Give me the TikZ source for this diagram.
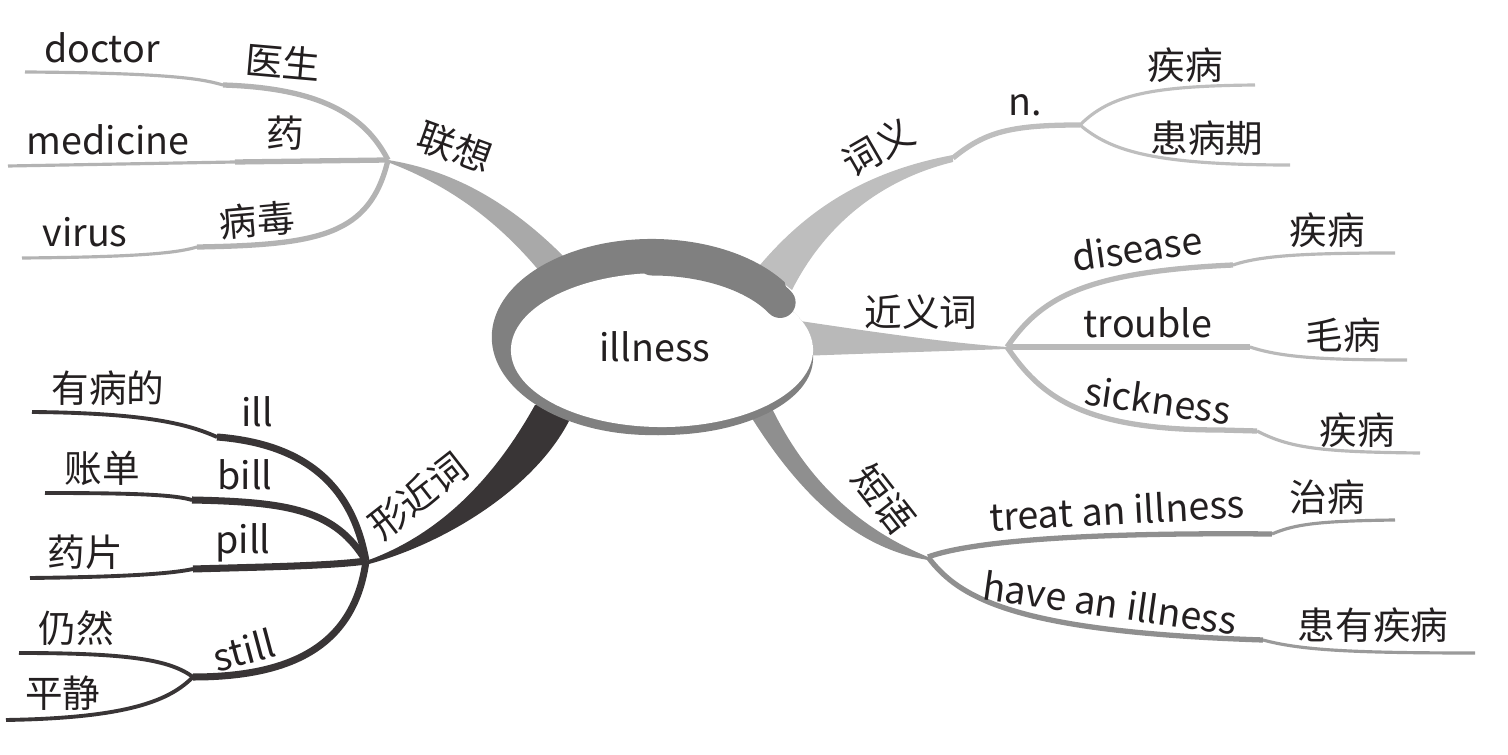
\documentclass[tikz,border=0pt]{standalone}
\usepackage{fontspec}
\setmainfont{Noto Sans CJK SC}
\definecolor{ringgray}{HTML}{808080}
\definecolor{assocband}{HTML}{A9A9A9}
\definecolor{assocline}{HTML}{B3B3B3}
\definecolor{meaningband}{HTML}{BEBEBE}
\definecolor{synband}{HTML}{B9B9B9}
\definecolor{phraseband}{HTML}{8F8F8F}
\definecolor{phraseline}{HTML}{9A9A9A}
\definecolor{lookband}{HTML}{393536}
\definecolor{ink}{HTML}{231F20}

\begin{document}
\begin{tikzpicture}
[x=0.01cm,y=-0.01cm,
 word/.style={text=ink,inner sep=1pt,font=\fontsize{10.7pt}{12pt}\selectfont},
 mainline/.style={line width=1.5pt},
 subline/.style={line width=0.9pt}]

\useasboundingbox (0,0) rectangle (1508,755);

%% branch points
\coordinate (L0) at (388,160);
\coordinate (N0) at (953,158);
\coordinate (N1) at (1080,125);
\coordinate (S0) at (1007,347);
\coordinate (P0) at (928,557);
\coordinate (X0) at (366,561);
\coordinate (X1) at (193,677);

%% bands, under the centre
\fill[assocband] (L0) .. controls (450,170) and (510,200) .. (572,265) -- (545,278) .. controls (500,222) and (450,186) .. (390,163) -- cycle;
\fill[meaningband] (760,265) .. controls (805,212) and (862,172) .. (953,155) -- (953,162) .. controls (880,180) and (825,225) .. (792,290) -- cycle;
\fill[synband] (800,321) .. controls (880,333) and (950,343) .. (S0) -- (1007,349) .. controls (950,351) and (880,353) .. (800,356) -- cycle;
\fill[phraseband] (768,400) .. controls (800,470) and (850,525) .. (P0) -- (928,560) .. controls (860,549) and (800,500) .. (742,402) -- cycle;
\fill[lookband] (535,405) .. controls (485,495) and (425,540) .. (X0) -- (369,564) .. controls (450,542) and (545,482) .. (575,408) -- cycle;

%% centre
\fill[ringgray] (662,358) ellipse [x radius=1.51cm, y radius=0.77cm];
\fill[ringgray] (784.6,282.2) arc[start angle=34, end angle=355, x radius=1.6cm, y radius=0.98cm] -- (812.4,356.7) arc[start angle=-5, end angle=30, x radius=1.51cm, y radius=0.77cm] -- cycle;
\fill[white] (662,350) ellipse [x radius=1.51cm, y radius=0.77cm];
\draw[ringgray, line width=0.31cm, line cap=round] (652,260) arc[start angle=90, end angle=28, x radius=1.45cm, y radius=0.8cm];
\node[word] (c) at (655,347) {illness};

%% 联想
\coordinate (Ld) at (223,85);  \coordinate (Ld2) at (25,72);
\coordinate (Lm) at (235,162); \coordinate (Lm2) at (8,166);
\coordinate (Lv) at (197,247); \coordinate (Lv2) at (22,258);
\draw[mainline,assocline] (L0) .. controls (365,115) and (320,88) .. (Ld);
\draw[subline,assocline] (Ld) .. controls (205,80) and (180,73) .. (Ld2);
\draw[mainline,assocline] (L0) -- (Lm);
\draw[subline,assocline] (Lm) -- (Lm2);
\draw[mainline,assocline] (L0) .. controls (370,235) and (320,245) .. (Lv);
\draw[subline,assocline] (Lv) .. controls (180,252) and (150,257) .. (Lv2);

\node[word,rotate=-20] (lx) at (455,147) {联想};
\node[word,rotate=-5] (ys) at (283,62) {医生};
\node[word] (doc) at (102,48) {doctor};
\node[word] (yao) at (285,133) {药};
\node[word] (med) at (108,140) {medicine};
\node[word,rotate=5] (bd) at (257,220) {病毒};
\node[word] (vir) at (85,232) {virus};

%% 词义
\coordinate (Na) at (1255,85);
\coordinate (Nb) at (1290,165);
\draw[mainline,meaningband] (N0) .. controls (985,132) and (1010,125) .. (N1);
\draw[subline,meaningband] (N1) .. controls (1110,95) and (1150,86) .. (Na);
\draw[subline,meaningband] (N1) .. controls (1110,150) and (1150,165) .. (Nb);

\node[word,rotate=30] (cy) at (878,147) {词义};
\node[word] (n) at (1025,105) {n.};
\node[word] (jb1) at (1185,65) {疾病};
\node[word] (hbq) at (1207,138) {患病期};

%% 近义词
\coordinate (Sd) at (1233,265); \coordinate (Sd2) at (1395,253);
\coordinate (St) at (1250,347); \coordinate (St2) at (1407,360);
\coordinate (Ss) at (1257,431); \coordinate (Ss2) at (1420,453);
\draw[mainline,synband] (S0) .. controls (1040,300) and (1080,272) .. (Sd);
\draw[subline,synband] (Sd) .. controls (1260,256) and (1300,253) .. (Sd2);
\draw[mainline,synband] (S0) -- (St);
\draw[subline,synband] (St) .. controls (1280,357) and (1320,360) .. (St2);
\draw[mainline,synband] (S0) .. controls (1040,395) and (1080,430) .. (1220,430) -- (Ss);
\draw[subline,synband] (Ss) .. controls (1290,448) and (1320,452) .. (Ss2);

\node[word] (jyc) at (921,312) {近义词};
\node[word,rotate=8] (dis) at (1137,248) {disease};
\node[word] (jb2) at (1327,230) {疾病};
\node[word] (tro) at (1148,323) {trouble};
\node[word] (mb) at (1343,335) {毛病};
\node[word,rotate=-8] (sic) at (1158,400) {sickness};
\node[word] (jb3) at (1357,430) {疾病};

%% 短语
\coordinate (Pt) at (1272,534); \coordinate (Pt2) at (1395,520);
\coordinate (Ph) at (1263,640); \coordinate (Ph2) at (1475,653);
\draw[mainline,phraseband] (P0) .. controls (960,545) and (1050,532) .. (Pt);
\draw[subline,phraseline] (Pt) .. controls (1295,524) and (1320,521) .. (Pt2);
\draw[mainline,phraseband] (P0) .. controls (960,600) and (1020,632) .. (Ph);
\draw[subline,phraseline] (Ph) .. controls (1300,650) and (1350,653) .. (Ph2);

\node[word,rotate=-52] (dy) at (884,499) {短语};
\node[word,rotate=3] (tre) at (1117,510) {treat an illness};
\node[word] (zb) at (1327,497) {治病};
\node[word,rotate=-8] (hav) at (1110,603) {have an illness};
\node[word] (hyjb) at (1373,625) {患有疾病};

%% 形近词
\coordinate (Xi) at (217,437); \coordinate (Xi2) at (32,412);
\coordinate (Xb) at (192,500); \coordinate (Xb2) at (45,493);
\coordinate (Xp) at (193,569); \coordinate (Xp2) at (30,578);
\coordinate (Xr) at (19,653);  \coordinate (Xq) at (6,720);
\draw[lookband,line width=2pt] (X0) .. controls (355,500) and (320,445) .. (Xi);
\draw[lookband,line width=1.1pt] (Xi) .. controls (190,425) and (150,413) .. (Xi2);
\draw[lookband,line width=2pt] (X0) .. controls (335,510) and (290,502) .. (Xb);
\draw[lookband,line width=1.1pt] (Xb) .. controls (175,495) and (140,493) .. (Xb2);
\draw[lookband,line width=2pt] (X0) .. controls (330,566) and (260,567) .. (Xp);
\draw[lookband,line width=1.1pt] (Xp) .. controls (170,574) and (120,577) .. (Xp2);
\draw[lookband,line width=2pt] (X0) .. controls (355,640) and (300,677) .. (X1);
\draw[lookband,line width=1.1pt] (X1) .. controls (170,660) and (130,653) .. (Xr);
\draw[lookband,line width=1.1pt] (X1) .. controls (170,700) and (130,718) .. (Xq);

\node[word,rotate=38] (xjc) at (418,496) {形近词};
\node[word] (ybd) at (108,388) {有病的};
\node[word] (ill) at (257,412) {ill};
\node[word] (zd) at (102,468) {账单};
\node[word] (bil) at (245,475) {bill};
\node[word] (yp) at (85,552) {药片};
\node[word] (pil) at (243,543) {pill};
\node[word] (rr) at (76,628) {仍然};
\node[word,rotate=15] (sti) at (244,650) {still};
\node[word] (pj) at (63,693) {平静};
\end{tikzpicture}
\end{document}
